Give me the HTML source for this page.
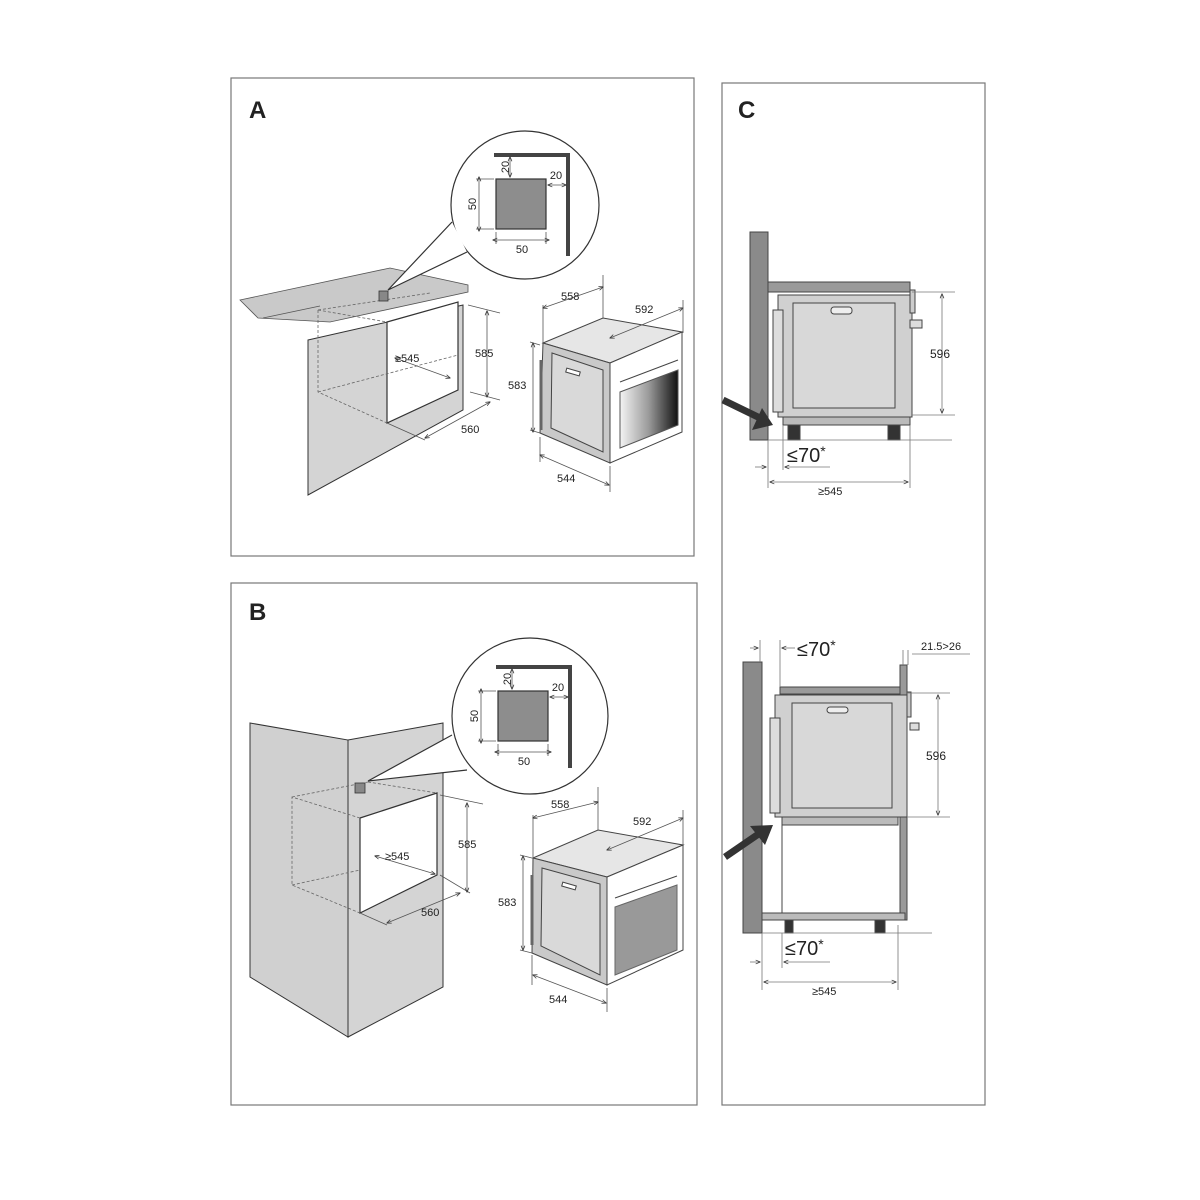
<!DOCTYPE html>
<html><head><meta charset="utf-8"><style>
html,body{margin:0;padding:0;background:#fff}
svg{display:block}
text{font-family:"Liberation Sans",sans-serif;fill:#222}
</style></head><body>
<svg width="1200" height="1200" viewBox="0 0 1200 1200" xmlns="http://www.w3.org/2000/svg">
<defs>
<linearGradient id="win" x1="0" x2="1" y1="0" y2="0">
<stop offset="0" stop-color="#f4f4f4"/><stop offset="0.5" stop-color="#999"/><stop offset="1" stop-color="#111"/>
</linearGradient>
<marker id="ar" viewBox="0 0 10 10" refX="9" refY="5" markerWidth="6" markerHeight="6" orient="auto-start-reverse"><path d="M0,1 L10,5 L0,9" fill="none" stroke="#333" stroke-width="1.5"/></marker>
<g id="inset">
<path d="M494,155 L568,155 L568,256" fill="none" stroke="#444" stroke-width="4"/>
<rect x="496" y="179" width="50" height="50" fill="#8d8d8d" stroke="#333" stroke-width="1.2"/>
<g stroke="#555" stroke-width="0.8" fill="none">
<line x1="476" y1="179" x2="494" y2="179"/><line x1="476" y1="229" x2="494" y2="229"/>
<line x1="479" y1="177" x2="479" y2="231" marker-start="url(#ar)" marker-end="url(#ar)"/>
<line x1="496" y1="232" x2="496" y2="244"/><line x1="546" y1="232" x2="546" y2="244"/>
<line x1="493" y1="240" x2="549" y2="240" marker-start="url(#ar)" marker-end="url(#ar)"/>
<line x1="510" y1="157" x2="510" y2="177" marker-start="url(#ar)" marker-end="url(#ar)"/>
<line x1="548" y1="185" x2="566" y2="185" marker-start="url(#ar)" marker-end="url(#ar)"/>
</g>
<text x="522" y="253" font-size="11" text-anchor="middle">50</text>
<text x="0" y="0" font-size="11" text-anchor="middle" transform="translate(476,204) rotate(-90)">50</text>
<text x="0" y="0" font-size="11" text-anchor="middle" transform="translate(509,167) rotate(-90)">20</text>
<text x="556" y="179" font-size="11" text-anchor="middle">20</text>
</g>
</defs>

<!-- panel frames -->
<rect x="231" y="78" width="463" height="478" fill="none" stroke="#777" stroke-width="1.2"/>
<rect x="231" y="583" width="466" height="522" fill="none" stroke="#777" stroke-width="1.2"/>
<rect x="722" y="83" width="263" height="1022" fill="none" stroke="#777" stroke-width="1.2"/>
<text x="249" y="118" font-size="24" font-weight="bold">A</text>
<text x="249" y="620" font-size="24" font-weight="bold">B</text>
<text x="738" y="118" font-size="24" font-weight="bold">C</text>

<!-- ===== Panel A ===== -->
<polygon points="308,340 463,305 463,410 308,495" fill="#d4d4d4" stroke="#333" stroke-width="1"/>
<polygon points="387,322 458,302 458,390 387,423" fill="#fff" stroke="#333" stroke-width="1.2"/>
<polygon points="240,300 390,268 468,285 468,292 330,322 258,318" fill="#c9c9c9" stroke="#555" stroke-width="0.8"/>
<line x1="263" y1="318" x2="320" y2="306" stroke="#555" stroke-width="0.8"/>
<g stroke="#666" stroke-width="0.8" stroke-dasharray="3,2" fill="none">
<polyline points="318,310 318,392 387,423"/>
<line x1="318" y1="310" x2="387" y2="322"/>
<line x1="318" y1="392" x2="458" y2="355"/>
<line x1="318" y1="310" x2="430" y2="293"/>
</g>
<rect x="379" y="291" width="9" height="10" fill="#888" stroke="#333" stroke-width="0.8"/>
<g stroke="#555" stroke-width="0.8" fill="none">
<line x1="468" y1="305" x2="500" y2="313"/><line x1="470" y1="392" x2="500" y2="400"/>
<line x1="487" y1="311" x2="487" y2="397" marker-start="url(#ar)" marker-end="url(#ar)"/>
<line x1="395" y1="358" x2="450" y2="378" marker-start="url(#ar)" marker-end="url(#ar)"/>
<line x1="387" y1="423" x2="425" y2="440"/>
<line x1="425" y1="438" x2="490" y2="402" marker-start="url(#ar)" marker-end="url(#ar)"/>
</g>
<text x="475" y="357" font-size="11">585</text>
<text x="395" y="362" font-size="11">≥545</text>
<text x="461" y="433" font-size="11">560</text>
<!-- inset A -->
<circle cx="525" cy="205" r="74" fill="#fff" stroke="#333" stroke-width="1.2"/>
<path d="M452,222 L388,290 L467,252" fill="#fff" stroke="#333" stroke-width="1.2"/>
<use href="#inset"/>

<!-- oven A -->
<g stroke="#444" stroke-width="1">
<polygon points="543,343 603,318 682,332 610,363" fill="#e6e6e6"/>
<polygon points="543,343 610,363 610,463 540,433" fill="#c9c9c9"/>
<polygon points="610,363 682,332 682,432 610,463" fill="#fff"/>
<polygon points="552,353 603,370 603,452 551,428" fill="#d9d9d9"/>
<polygon points="620,392 678,370 678,425 620,448" fill="url(#win)" stroke="#555"/>
<line x1="620" y1="382" x2="678" y2="360"/>
<rect x="566" y="370" width="14" height="4" fill="#fff" transform="rotate(16 573 372)"/>
<line x1="541" y1="360" x2="541" y2="430" stroke-width="3" stroke="#666"/>
</g>
<g stroke="#555" stroke-width="0.8" fill="none">
<line x1="543" y1="343" x2="543" y2="305"/><line x1="603" y1="318" x2="603" y2="275"/>
<line x1="543" y1="308" x2="603" y2="287" marker-start="url(#ar)" marker-end="url(#ar)"/>
<line x1="610" y1="338" x2="683" y2="308" marker-start="url(#ar)" marker-end="url(#ar)"/>
<line x1="683" y1="300" x2="683" y2="333"/>
<line x1="530" y1="342" x2="540" y2="345"/><line x1="530" y1="430" x2="540" y2="433"/>
<line x1="533" y1="343" x2="533" y2="432" marker-start="url(#ar)" marker-end="url(#ar)"/>
<line x1="540" y1="437" x2="540" y2="462"/><line x1="610" y1="466" x2="610" y2="492"/>
<line x1="540" y1="455" x2="609" y2="485" marker-start="url(#ar)" marker-end="url(#ar)"/>
</g>
<text x="561" y="300" font-size="11">558</text>
<text x="635" y="313" font-size="11">592</text>
<text x="508" y="389" font-size="11">583</text>
<text x="557" y="482" font-size="11">544</text>

<!-- ===== Panel B ===== -->
<polygon points="250,723 348,740 348,1037 250,977" fill="#d0d0d0" stroke="#333" stroke-width="1"/>
<polygon points="348,740 443,723 443,987 348,1037" fill="#d4d4d4" stroke="#333" stroke-width="1"/>
<polygon points="360,818 437,793 437,875 360,913" fill="#fff" stroke="#333" stroke-width="1.2"/>
<g stroke="#666" stroke-width="0.8" stroke-dasharray="3,2" fill="none">
<polyline points="360,818 292,797 292,885 360,913"/>
<line x1="292" y1="797" x2="368" y2="782"/><line x1="368" y1="782" x2="437" y2="793"/>
<line x1="292" y1="885" x2="360" y2="870"/>
</g>
<rect x="355" y="783" width="10" height="10" fill="#888" stroke="#333" stroke-width="0.8"/>
<g stroke="#555" stroke-width="0.8" fill="none">
<line x1="440" y1="795" x2="483" y2="804"/><line x1="440" y1="875" x2="470" y2="893"/>
<line x1="467" y1="803" x2="467" y2="892" marker-start="url(#ar)" marker-end="url(#ar)"/>
<line x1="375" y1="856" x2="435" y2="874" marker-start="url(#ar)" marker-end="url(#ar)"/>
<line x1="360" y1="913" x2="387" y2="925"/>
<line x1="387" y1="923" x2="460" y2="893" marker-start="url(#ar)" marker-end="url(#ar)"/>
</g>
<text x="458" y="848" font-size="11">585</text>
<text x="385" y="860" font-size="11">≥545</text>
<text x="421" y="916" font-size="11">560</text>
<circle cx="530" cy="716" r="78" fill="#fff" stroke="#333" stroke-width="1.2"/>
<path d="M452,735 L368,781 L467,770" fill="#fff" stroke="#333" stroke-width="1.2"/>
<use href="#inset" transform="translate(2,512)"/>

<!-- oven B -->
<g stroke="#444" stroke-width="1">
<polygon points="533,858 598,830 683,845 607,877" fill="#e6e6e6"/>
<polygon points="533,858 607,877 607,985 532,953" fill="#c9c9c9"/>
<polygon points="607,877 683,845 683,950 607,985" fill="#fff"/>
<polygon points="542,868 600,884 600,975 541,946" fill="#d9d9d9"/>
<polygon points="615,907 677,885 677,950 615,975" fill="#999" stroke="#666"/>
<line x1="615" y1="898" x2="677" y2="876"/>
<rect x="562" y="884" width="14" height="4" fill="#fff" transform="rotate(16 569 886)"/>
<line x1="532" y1="875" x2="532" y2="945" stroke-width="3" stroke="#666"/>
</g>
<g stroke="#555" stroke-width="0.8" fill="none">
<line x1="533" y1="858" x2="533" y2="815"/><line x1="598" y1="830" x2="598" y2="787"/>
<line x1="533" y1="818" x2="598" y2="802" marker-start="url(#ar)" marker-end="url(#ar)"/>
<line x1="607" y1="850" x2="683" y2="818" marker-start="url(#ar)" marker-end="url(#ar)"/>
<line x1="683" y1="810" x2="683" y2="845"/>
<line x1="520" y1="855" x2="532" y2="858"/><line x1="520" y1="950" x2="532" y2="953"/>
<line x1="523" y1="856" x2="523" y2="950" marker-start="url(#ar)" marker-end="url(#ar)"/>
<line x1="532" y1="955" x2="532" y2="985"/><line x1="607" y1="988" x2="607" y2="1012"/>
<line x1="533" y1="975" x2="606" y2="1003" marker-start="url(#ar)" marker-end="url(#ar)"/>
</g>
<text x="551" y="808" font-size="11">558</text>
<text x="633" y="825" font-size="11">592</text>
<text x="498" y="906" font-size="11">583</text>
<text x="549" y="1003" font-size="11">544</text>

<!-- ===== Panel C top ===== -->
<g stroke="#444" stroke-width="1">
<rect x="750" y="232" width="18" height="208" fill="#8a8a8a"/>
<rect x="768" y="282" width="142" height="10" fill="#9a9a9a"/>
<rect x="778" y="295" width="134" height="122" fill="#d0d0d0"/>
<rect x="793" y="303" width="102" height="105" fill="#d8d8d8"/>
<rect x="831" y="307" width="21" height="7" rx="3" fill="#eee"/>
<rect x="773" y="310" width="10" height="102" fill="#ddd"/>
<rect x="910" y="290" width="5" height="23" fill="#ccc"/>
<rect x="910" y="320" width="12" height="8" fill="#ddd"/>
<rect x="783" y="417" width="127" height="8" fill="#bbb"/>
<rect x="788" y="425" width="12" height="15" fill="#333"/>
<rect x="888" y="425" width="12" height="15" fill="#333"/>
</g>
<line x1="723" y1="400" x2="760" y2="418" stroke="#333" stroke-width="7"/>
<polygon points="773,425 752,430 762,408" fill="#333"/>
<g stroke="#777" stroke-width="0.8" fill="none">
<line x1="768" y1="440" x2="952" y2="440"/>
<line x1="912" y1="292" x2="955" y2="292"/><line x1="912" y1="415" x2="955" y2="415"/>
<line x1="942" y1="294" x2="942" y2="413" marker-start="url(#ar)" marker-end="url(#ar)"/>
<line x1="768" y1="440" x2="768" y2="488"/><line x1="783" y1="425" x2="783" y2="470"/>
<line x1="910" y1="425" x2="910" y2="488"/>
<line x1="755" y1="467" x2="766" y2="467" marker-end="url(#ar)"/>
<line x1="830" y1="467" x2="785" y2="467" marker-end="url(#ar)"/>
<line x1="770" y1="482" x2="908" y2="482" marker-start="url(#ar)" marker-end="url(#ar)"/>
</g>
<text x="930" y="358" font-size="12">596</text>
<text x="787" y="462" font-size="20">≤70<tspan font-size="14" dy="-6">*</tspan></text>
<text x="818" y="495" font-size="11">≥545</text>

<!-- ===== Panel C bottom ===== -->
<g stroke="#444" stroke-width="1">
<rect x="743" y="662" width="19" height="271" fill="#8a8a8a"/>
<rect x="780" y="687" width="120" height="7" fill="#9a9a9a"/>
<rect x="900" y="665" width="7" height="255" fill="#9a9a9a"/>
<rect x="775" y="695" width="132" height="122" fill="#d0d0d0"/>
<rect x="792" y="703" width="100" height="105" fill="#d8d8d8"/>
<rect x="827" y="707" width="21" height="6" rx="3" fill="#eee"/>
<rect x="770" y="718" width="10" height="95" fill="#ddd"/>
<rect x="907" y="692" width="4" height="25" fill="#ccc"/>
<rect x="910" y="723" width="9" height="7" fill="#ddd"/>
<rect x="782" y="817" width="116" height="8" fill="#bbb"/>
<line x1="782" y1="825" x2="782" y2="913"/>
<rect x="762" y="913" width="143" height="7" fill="#bbb"/>
<rect x="785" y="920" width="8" height="13" fill="#333"/>
<rect x="875" y="920" width="10" height="13" fill="#333"/>
</g>
<line x1="725" y1="857" x2="760" y2="833" stroke="#333" stroke-width="7"/>
<polygon points="773,825 765,845 750,826" fill="#333"/>
<g stroke="#777" stroke-width="0.8" fill="none">
<line x1="762" y1="933" x2="932" y2="933"/>
<line x1="907" y1="693" x2="950" y2="693"/><line x1="907" y1="817" x2="950" y2="817"/>
<line x1="938" y1="695" x2="938" y2="815" marker-start="url(#ar)" marker-end="url(#ar)"/>
<line x1="760" y1="640" x2="760" y2="662"/><line x1="780" y1="640" x2="780" y2="687"/>
<line x1="750" y1="648" x2="758" y2="648" marker-end="url(#ar)"/>
<line x1="795" y1="648" x2="782" y2="648" marker-end="url(#ar)"/>
<line x1="903" y1="650" x2="903" y2="665"/><line x1="908" y1="650" x2="908" y2="665"/>
<line x1="912" y1="654" x2="970" y2="654"/>
<line x1="762" y1="933" x2="762" y2="990"/><line x1="782" y1="933" x2="782" y2="968"/>
<line x1="898" y1="925" x2="898" y2="990"/>
<line x1="750" y1="962" x2="760" y2="962" marker-end="url(#ar)"/>
<line x1="830" y1="962" x2="784" y2="962" marker-end="url(#ar)"/>
<line x1="764" y1="982" x2="896" y2="982" marker-start="url(#ar)" marker-end="url(#ar)"/>
</g>
<text x="797" y="656" font-size="20">≤70<tspan font-size="14" dy="-6">*</tspan></text>
<text x="921" y="650" font-size="11">21.5&gt;26</text>
<text x="926" y="760" font-size="12">596</text>
<text x="785" y="955" font-size="20">≤70<tspan font-size="14" dy="-6">*</tspan></text>
<text x="812" y="995" font-size="11">≥545</text>
</svg>
</body></html>
